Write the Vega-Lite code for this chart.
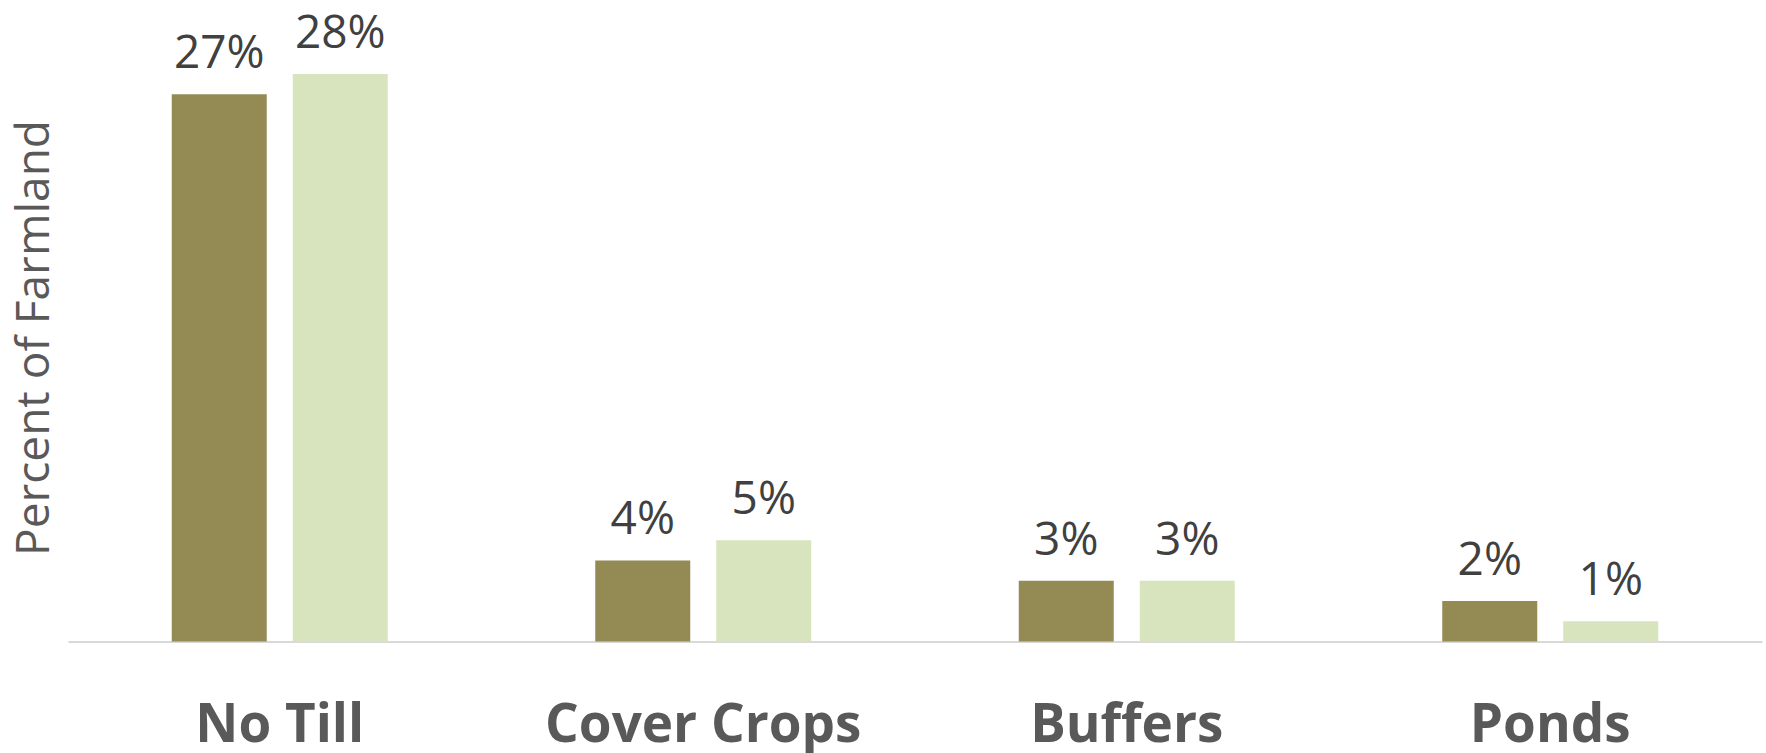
{
  "$schema": "https://vega.github.io/schema/vega-lite/v6.json",
  "autosize": {"type": "none"},
  "padding": {"left": 68, "top": 33.5, "right": 4, "bottom": 111.5},
  "width": 1694,
  "height": 608,
  "background": "white",
  "config": {"view": {"stroke": null}},
  "data": {
    "values": [
      {"practice": "No Till", "series": "Series 1", "value": 0.27},
      {"practice": "No Till", "series": "Series 2", "value": 0.28},
      {"practice": "Cover Crops", "series": "Series 1", "value": 0.04},
      {"practice": "Cover Crops", "series": "Series 2", "value": 0.05},
      {"practice": "Buffers", "series": "Series 1", "value": 0.03},
      {"practice": "Buffers", "series": "Series 2", "value": 0.03},
      {"practice": "Ponds", "series": "Series 1", "value": 0.02},
      {"practice": "Ponds", "series": "Series 2", "value": 0.01}
    ]
  },
  "encoding": {
    "x": {
      "field": "practice",
      "type": "nominal",
      "sort": ["No Till", "Cover Crops", "Buffers", "Ponds"],
      "scale": {"paddingInner": 0.49, "paddingOuter": 0.245},
      "axis": {
        "title": null,
        "orient": "bottom",
        "domainColor": "#d9d9d9",
        "domainWidth": 2,
        "ticks": false,
        "tickSize": 0,
        "grid": false,
        "labelAngle": 0,
        "labelFont": "Open Sans",
        "labelFontWeight": "bold",
        "labelFontSize": 53,
        "labelColor": "#595959",
        "labelBaseline": "alphabetic",
        "labelPadding": 100,
        "labelLimit": 0,
        "labelOverlap": false
      }
    },
    "xOffset": {
      "field": "series",
      "type": "nominal",
      "scale": {"paddingInner": 0.215, "paddingOuter": 0}
    },
    "y": {
      "field": "value",
      "type": "quantitative",
      "scale": {"domain": [0, 0.3], "nice": false, "zero": true},
      "axis": {
        "domain": false,
        "labels": false,
        "ticks": false,
        "grid": false,
        "title": "Percent of Farmland",
        "titleFont": "Open Sans",
        "titleFontSize": 46,
        "titleFontWeight": "normal",
        "titleColor": "#595959",
        "titleAngle": -90,
        "titleAlign": "center",
        "titleBaseline": "middle",
        "titleX": -34,
        "titleY": 304
      }
    }
  },
  "layer": [
    {
      "mark": {"type": "bar"},
      "encoding": {
        "color": {
          "field": "series",
          "type": "nominal",
          "scale": {"domain": ["Series 1", "Series 2"], "range": ["#948a54", "#d7e4bd"]},
          "legend": null
        }
      }
    },
    {
      "mark": {
        "type": "text",
        "font": "Open Sans",
        "fontSize": 46,
        "color": "#404040",
        "align": "center",
        "baseline": "alphabetic",
        "dy": -26
      },
      "encoding": {
        "text": {"field": "value", "type": "quantitative", "format": ".0%"}
      }
    }
  ]
}
